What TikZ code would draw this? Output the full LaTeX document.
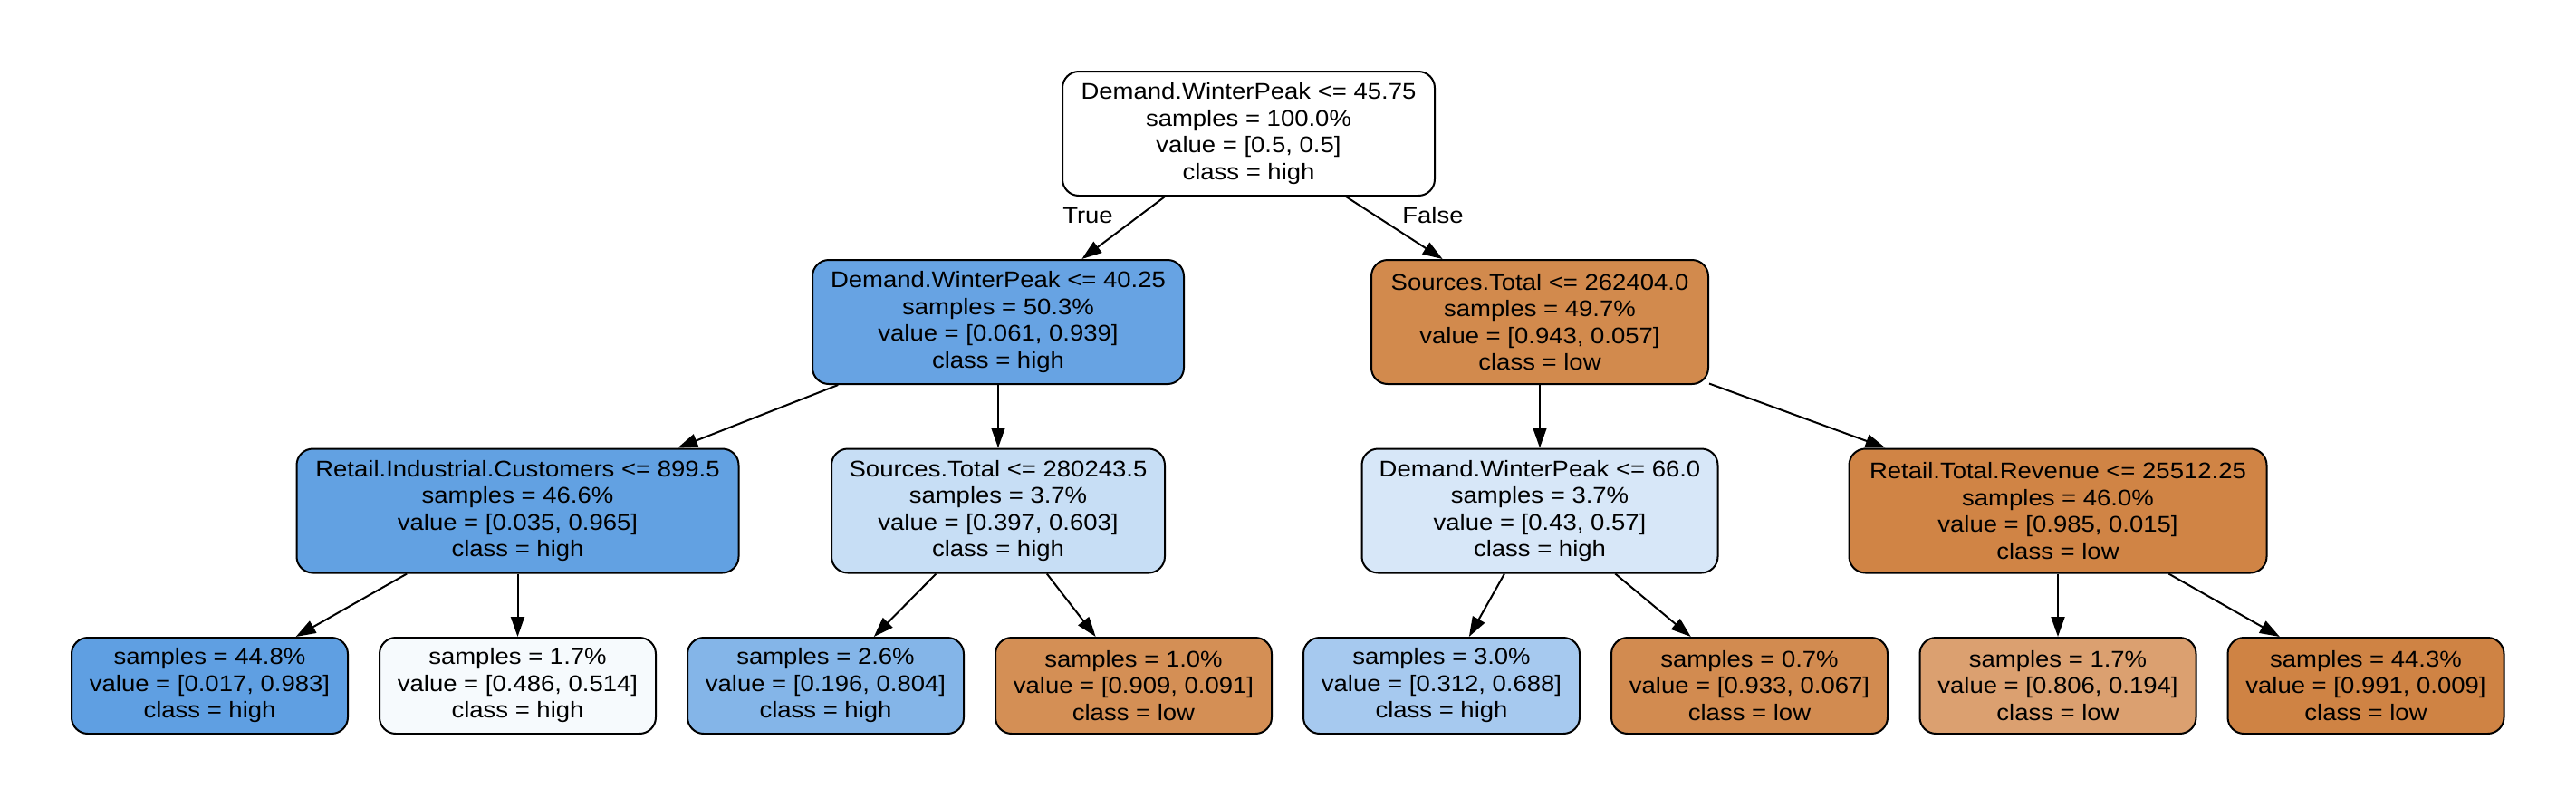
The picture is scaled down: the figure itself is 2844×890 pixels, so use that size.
\documentclass[tikz,border=0pt]{standalone}
\usepackage{fontspec}
\setmainfont[FakeStretch=1.1]{Liberation Sans}
\usetikzlibrary{arrows.meta}
\definecolor{cRoot}{RGB}{255,255,255}
\definecolor{cNa}{RGB}{103,163,227}
\definecolor{cNb}{RGB}{210,138,77}
\definecolor{cNc}{RGB}{98,161,226}
\definecolor{cNd}{RGB}{199,222,245}
\definecolor{cNe}{RGB}{215,231,248}
\definecolor{cNf}{RGB}{208,132,69}
\definecolor{cLa}{RGB}{95,159,226}
\definecolor{cLb}{RGB}{246,250,253}
\definecolor{cLc}{RGB}{132,181,232}
\definecolor{cLd}{RGB}{212,143,85}
\definecolor{cLe}{RGB}{166,201,239}
\definecolor{cLf}{RGB}{210,139,80}
\definecolor{cLg}{RGB}{219,160,112}
\definecolor{cLh}{RGB}{207,131,68}
\begin{document}
\begin{tikzpicture}[x=0.5pt,y=-0.5pt,
  tn/.style={draw=black, line width=1pt, rounded corners=9pt, rectangle,
    align=center, inner sep=0pt, minimum height=68.5pt,
    font=\fontsize{12.5}{14.75}\selectfont},
  leafbox/.style={tn, minimum height=53pt, minimum width=152.5pt},
  edgelbl/.style={font=\fontsize{12.5}{14.75}\selectfont, inner sep=0pt},
  conn/.style={draw=black, line width=1pt, -{Triangle[length=11pt,width=7.5pt]}}]
\path[fill=white, use as bounding box] (0,0) rectangle (2844,890);
% internal nodes
\node[tn, minimum width=205.5pt, fill=cRoot] (root) at (1378.5,147.5)
  {Demand.WinterPeak <= 45.75\\samples = 100.0\%\\value = [0.5, 0.5]\\class = high};
\node[tn, minimum width=205pt, fill=cNa] (na) at (1102,355.5)
  {Demand.WinterPeak <= 40.25\\samples = 50.3\%\\value = [0.061, 0.939]\\class = high};
\node[tn, minimum width=186pt, fill=cNb] (nb) at (1700,355.5)
  {Sources.Total <= 262404.0\\samples = 49.7\%\\value = [0.943, 0.057]\\class = low};
\node[tn, minimum width=244pt, fill=cNc] (nc) at (571.5,564)
  {Retail.Industrial.Customers <= 899.5\\samples = 46.6\%\\value = [0.035, 0.965]\\class = high};
\node[tn, minimum width=184pt, fill=cNd] (nd) at (1102,564)
  {Sources.Total <= 280243.5\\samples = 3.7\%\\value = [0.397, 0.603]\\class = high};
\node[tn, minimum width=196.5pt, fill=cNe] (ne) at (1700,564)
  {Demand.WinterPeak <= 66.0\\samples = 3.7\%\\value = [0.43, 0.57]\\class = high};
\node[tn, minimum width=230.5pt, fill=cNf] (nf) at (2272,564)
  {Retail.Total.Revenue <= 25512.25\\samples = 46.0\%\\value = [0.985, 0.015]\\class = low};
% leaves
\node[leafbox, fill=cLa] (la) at (231.5,757) {samples = 44.8\%\\value = [0.017, 0.983]\\class = high};
\node[leafbox, fill=cLb] (lb) at (571.5,757) {samples = 1.7\%\\value = [0.486, 0.514]\\class = high};
\node[leafbox, fill=cLc] (lc) at (911.5,757) {samples = 2.6\%\\value = [0.196, 0.804]\\class = high};
\node[leafbox, fill=cLd] (ld) at (1251.5,757) {samples = 1.0\%\\value = [0.909, 0.091]\\class = low};
\node[leafbox, fill=cLe] (le) at (1591.5,757) {samples = 3.0\%\\value = [0.312, 0.688]\\class = high};
\node[leafbox, fill=cLf] (lf) at (1931.5,757) {samples = 0.7\%\\value = [0.933, 0.067]\\class = low};
\node[leafbox, fill=cLg] (lg) at (2272,757) {samples = 1.7\%\\value = [0.806, 0.194]\\class = low};
\node[leafbox, fill=cLh] (lh) at (2612,757) {samples = 44.3\%\\value = [0.991, 0.009]\\class = low};
% edge labels
\node[edgelbl] (ltrue) at (1201,238) {True};
\node[edgelbl] (lfalse) at (1582,238) {False};
% connectors
\draw[conn] (root) -- (na);
\draw[conn] (root) -- (nb);
\draw[conn] (na) -- (nc);
\draw[conn] (na) -- (nd);
\draw[conn] (nb) -- (ne);
\draw[conn] (nb) -- (nf);
\draw[conn] (nc) -- (la);
\draw[conn] (nc) -- (lb);
\draw[conn] (nd) -- (lc);
\draw[conn] (nd) -- (ld);
\draw[conn] (ne) -- (le);
\draw[conn] (ne) -- (lf);
\draw[conn] (nf) -- (lg);
\draw[conn] (nf) -- (lh);
\end{tikzpicture}
\end{document}
